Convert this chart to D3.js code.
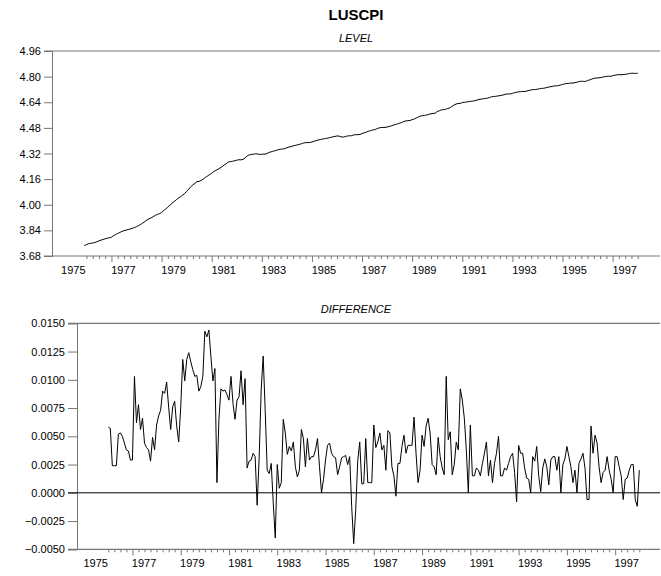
<!DOCTYPE html>
<html><head><meta charset="utf-8">
<script src="https://cdn.jsdelivr.net/npm/d3@7"></script>
<style>
body{margin:0;background:#fff}
svg text{font-family:"Liberation Sans",Arial,Helvetica,sans-serif}
</style>
</head><body>
<svg id="chart" width="661" height="576"></svg>
<script>
// ---------------- data ----------------
const seriesName = "LUSCPI";
const panelTitles = ["LEVEL", "DIFFERENCE"];
// first observation of the level series: 1975M12
const startYear = 1975, startMonth = 12;
const levelStart = 3.745;
// monthly first differences, 1976M1 .. 1998M1
const diffValues = [
 0.0058,0.0057,0.0024,0.0024,0.0024,0.0052,0.0053,0.0050,0.0044,0.0038,0.0037,0.0029,
 0.0029,0.0103,0.0062,0.0078,0.0056,0.0066,0.0044,0.0040,0.0038,0.0028,0.0049,0.0038,
 0.0060,0.0068,0.0073,0.0090,0.0088,0.0098,0.0076,0.0056,0.0076,0.0081,0.0059,0.0045,
 0.0076,0.0118,0.0099,0.0118,0.0124,0.0116,0.0109,0.0103,0.0104,0.0090,0.0094,0.0103,
 0.0143,0.0138,0.0144,0.0121,0.0099,0.0110,0.0009,0.0065,0.0092,0.0090,0.0091,0.0087,
 0.0082,0.0103,0.0079,0.0065,0.0082,0.0085,0.0108,0.0078,0.0101,0.0022,0.0028,0.0029,
 0.0035,0.0032,-0.0011,0.0031,0.0091,0.0121,0.0073,0.0020,0.0017,0.0026,-0.0009,-0.0040,
 0.0025,0.0004,0.0009,0.0065,0.0053,0.0034,0.0041,0.0037,0.0045,0.0023,0.0014,0.0020,
 0.0056,0.0048,0.0023,0.0048,0.0029,0.0032,0.0032,0.0038,0.0048,0.0023,0.0000,0.0012,
 0.0029,0.0042,0.0044,0.0035,0.0032,0.0031,0.0016,0.0023,0.0031,0.0032,0.0033,0.0025,
 0.0032,-0.0012,-0.0045,-0.0015,0.0028,0.0045,0.0008,0.0008,0.0048,0.0009,0.0009,0.0009,
 0.0060,0.0040,0.0045,0.0053,0.0038,0.0042,0.0020,0.0055,0.0053,0.0023,0.0015,-0.0003,
 0.0026,0.0026,0.0041,0.0051,0.0035,0.0042,0.0042,0.0042,0.0067,0.0035,0.0009,0.0020,
 0.0051,0.0041,0.0059,0.0066,0.0053,0.0025,0.0023,0.0016,0.0049,0.0032,0.0022,0.0016,
 0.0103,0.0047,0.0054,0.0016,0.0025,0.0045,0.0038,0.0092,0.0082,0.0066,0.0038,0.0000,
 0.0060,0.0015,0.0015,0.0022,0.0020,0.0015,0.0026,0.0035,0.0045,0.0015,0.0029,0.0009,
 0.0026,0.0035,0.0050,0.0015,0.0015,0.0022,0.0020,0.0026,0.0032,0.0035,0.0018,-0.0008,
 0.0042,0.0035,0.0035,0.0022,0.0013,0.0012,0.0000,0.0032,0.0028,0.0041,0.0015,0.0001,
 0.0022,0.0030,0.0023,0.0007,0.0029,0.0032,0.0032,0.0020,0.0032,0.0000,0.0025,0.0030,
 0.0041,0.0032,0.0023,0.0009,0.0020,0.0000,0.0026,0.0030,0.0035,0.0022,-0.0006,-0.0006,
 0.0059,0.0035,0.0051,0.0044,0.0023,0.0009,0.0018,0.0020,0.0032,0.0020,0.0012,0.0000,
 0.0032,0.0032,0.0023,0.0015,-0.0006,0.0012,0.0013,0.0020,0.0025,0.0025,-0.0006,-0.0012,
 0.0020
];
const yearLabels = [1975,1977,1979,1981,1983,1985,1987,1989,1991,1993,1995,1997];
const levelTicks = [3.68,3.84,4.00,4.16,4.32,4.48,4.64,4.80,4.96];
const diffTicks = [-0.0050,-0.0025,0.0000,0.0025,0.0050,0.0075,0.0100,0.0125,0.0150];

// level = first observation + running sum of the differences
const levelValues = [levelStart];
diffValues.forEach(d => levelValues.push(levelValues[levelValues.length - 1] + d));
const nObs = levelValues.length;          // 1975M12 .. 1998M1
const levelData = levelValues.map((v, i) => ({i, v}));
const diffData = diffValues.map((v, k) => ({i: k + 1, v}));

// month index helpers (0 = 1975M12)
const idxOf = (y, m) => (y - startYear) * 12 + (m - startMonth);
const quarterTicks = [], majorTicks = [];
for (let y = startYear; y <= 1998; y++) {
  for (const m of [1, 4, 7, 10]) {
    const k = idxOf(y, m);
    if (k < 0 || k > nObs - 1) continue;
    if (m === 1 && y % 2 === 1) majorTicks.push(k); else quarterTicks.push(k);
  }
}
const labelPos = yearLabels.map(y => idxOf(y, 1) + 5.5);

// ---------------- drawing ----------------
const svg = d3.select("#chart");
svg.append("rect").attr("width", 661).attr("height", 576).attr("fill", "#fff");
const axisColor = "#777";
const rightEdge = 660;

svg.append("text").attr("x", 356).attr("y", 20).attr("text-anchor", "middle")
  .attr("font-size", 15).attr("font-weight", "bold").text(seriesName);

function panel(cfg) {
  const x = d3.scaleLinear().domain([0, nObs - 1]).range(cfg.xRange);
  const y = d3.scaleLinear().domain(cfg.yDomain).range(cfg.yRange);
  const g = svg.append("g");

  g.append("text").attr("x", cfg.titleX).attr("y", cfg.titleY).attr("text-anchor", "middle")
    .attr("font-size", 11).attr("font-style", "italic").text(cfg.title);

  // y axis
  const ya = g.append("g").attr("transform", `translate(${cfg.axisX},0)`)
    .call(d3.axisLeft(y).tickValues(cfg.yTicks).tickFormat(d3.format(cfg.fmt))
      .tickSize(cfg.axisX - cfg.tickX0).tickPadding(3));
  ya.select(".domain").attr("stroke", axisColor);
  ya.selectAll(".tick line").attr("stroke", axisColor);
  ya.selectAll(".tick text").attr("font-size", 11).attr("fill", "#000")
    .attr("font-family", '"Liberation Sans",Arial,sans-serif');

  // frame lines (top / bottom)
  const [d0, d1] = cfg.yDomain;
  [d0, d1].forEach(v => {
    g.append("line").attr("x1", cfg.tickX0).attr("x2", rightEdge)
      .attr("y1", y(v)).attr("y2", y(v)).attr("stroke", axisColor).attr("stroke-width", 1.2);
  });
  if (cfg.zeroLine) {
    g.append("line").attr("x1", cfg.tickX0).attr("x2", rightEdge)
      .attr("y1", y(0)).attr("y2", y(0)).attr("stroke", "#000").attr("stroke-width", 1);
  }

  // x axis ticks
  const base = y(d0);
  const minor = g.append("g").attr("transform", `translate(0,${base})`)
    .call(d3.axisBottom(x).tickValues(quarterTicks).tickSize(3).tickFormat(""));
  const major = g.append("g").attr("transform", `translate(0,${base})`)
    .call(d3.axisBottom(x).tickValues(majorTicks).tickSize(6).tickFormat(""));
  const labs = g.append("g").attr("transform", `translate(0,${base})`)
    .call(d3.axisBottom(x).tickValues(labelPos).tickSize(0).tickPadding(10)
      .tickFormat((d, i) => String(yearLabels[i])));
  [minor, major, labs].forEach(a => {
    a.select(".domain").remove();
    a.selectAll(".tick line").attr("stroke", axisColor);
  });
  labs.selectAll(".tick text").attr("font-size", 11).attr("fill", "#000")
    .attr("font-family", '"Liberation Sans",Arial,sans-serif');

  // series line
  g.append("path").datum(cfg.data)
    .attr("d", d3.line().x(d => x(d.i)).y(d => y(d.v)))
    .attr("fill", "none").attr("stroke", "#000").attr("stroke-width", 1)
    .attr("stroke-linejoin", "miter");
}

panel({
  title: panelTitles[0], titleX: 356, titleY: 42,
  data: levelData, yDomain: [3.68, 4.96], yRange: [256, 51], yTicks: levelTicks, fmt: ".2f",
  axisX: 52, tickX0: 44, xRange: [84.3, 637.7], zeroLine: false
});
panel({
  title: panelTitles[1], titleX: 356, titleY: 313,
  data: diffData, yDomain: [-0.005, 0.015], yRange: [549.3, 323.3], yTicks: diffTicks, fmt: ".4f",
  axisX: 77, tickX0: 68, xRange: [106.3, 639.3], zeroLine: true
});
</script>
</body></html>
